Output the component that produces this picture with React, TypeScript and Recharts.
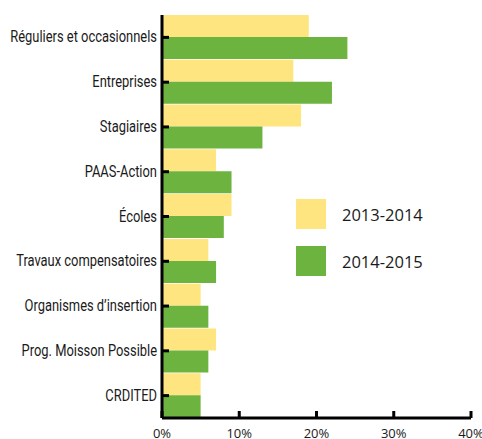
import React from "react";
import { BarChart, Bar, XAxis, YAxis, Legend } from "recharts";

const categories = [
  "Réguliers et occasionnels",
  "Entreprises",
  "Stagiaires",
  "PAAS-Action",
  "Écoles",
  "Travaux compensatoires",
  "Organismes d’insertion",
  "Prog. Moisson Possible",
  "CRDITED",
];
const series2013 = [19, 17, 18, 7, 9, 6, 5, 7, 5];
const series2014 = [24, 22, 13, 9, 8, 7, 6, 6, 5];
const xTicks = [0, 10, 20, 30, 40];
const seriesNames = ["2013-2014", "2014-2015"];
const colors = ["#FFE57F", "#6DB33F"];

const data = categories.map((name, i) => ({
  name,
  a: series2013[i],
  b: series2014[i],
}));

const YTick = (props: any) => {
  const { x, y, payload } = props;
  return (
    <g transform={`translate(${x},${y})`}>
      <text
        transform="scale(0.76,1)"
        textAnchor="end"
        dy="0.3em"
        fontFamily="Roboto, sans-serif"
        fontSize={17}
        fill="#1a1a1a"
      >
        {payload.value}
      </text>
    </g>
  );
};

const LegendContent = () => (
  <div style={{ height: 0, width: 0, overflow: "visible" }}>
    <div
      style={{
        fontFamily: "'Open Sans', sans-serif",
        fontSize: 16.5,
        color: "#1a1a1a",
        width: 150,
      }}
    >
      {seriesNames.map((n, i) => (
        <div key={n} style={{ display: "flex", alignItems: "center", height: 30, marginBottom: 17 }}>
          <div style={{ width: 30, height: 30, background: colors[i], marginRight: 16 }} />
          <span>{n}</span>
        </div>
      ))}
    </div>
  </div>
);

export default function App() {
  return (
    <div style={{ position: "absolute", left: 0, top: 0, background: "#fff" }}>
      <BarChart
        width={482}
        height={439}
        data={data}
        layout="vertical"
        margin={{ top: 15, right: 11, bottom: 0, left: 0 }}
        barCategoryGap={0}
        barGap={0}
      >
        <XAxis
          type="number"
          domain={[0, 40]}
          ticks={xTicks}
          tickFormatter={(v: number) => `${v}%`}
          height={21}
          tickSize={-7}
          tickMargin={18}
          axisLine={{ stroke: "#000", strokeWidth: 3 }}
          tickLine={{ stroke: "#000", strokeWidth: 3 }}
          tick={{ fill: "#1a1a1a", fontSize: 13, fontFamily: "'Open Sans', sans-serif" }}
          interval={0}
        />
        <YAxis
          type="category"
          dataKey="name"
          width={162}
          tickSize={-7}
          tickMargin={12}
          axisLine={{ stroke: "#000", strokeWidth: 3 }}
          tickLine={{ stroke: "#000", strokeWidth: 3 }}
          tick={<YTick />}
          interval={0}
        />
        <Legend
          content={<LegendContent />}
          wrapperStyle={{ position: "absolute", left: 296, top: 199, width: 0, height: 0 }}
        />
        <Bar dataKey="a" fill={colors[0]} isAnimationActive={false} />
        <Bar dataKey="b" fill={colors[1]} isAnimationActive={false} />
      </BarChart>
    </div>
  );
}
